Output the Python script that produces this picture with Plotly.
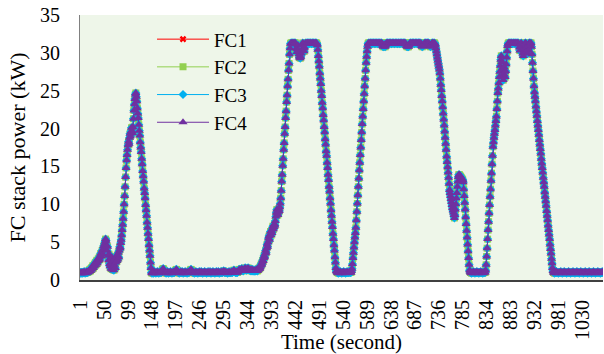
import plotly.graph_objects as go

# ---- Data (kW, one value per second) ----
idle_start = [0.9, 1.0, 0.9, 1.0, 1.0, 0.9, 1.0, 1.0, 1.1, 1.0, 0.9, 1.0, 1.0, 1.1, 1.0, 1.0, 1.1]
first_bump = [1.2, 1.1, 1.3, 1.4, 1.2, 1.5, 1.6, 1.4, 1.7, 1.9, 1.6, 1.8, 2.1, 1.9, 2.3, 2.0, 2.4, 2.6, 2.2,
              2.5, 2.8, 2.6, 3.0, 2.7, 3.2, 3.5, 3.1, 3.6, 3.9, 3.4, 4.1, 4.5, 4.2, 4.8, 5.1, 5.4, 5.2]
low_noise = [4.6, 3.9, 4.4, 3.2, 2.6, 3.4, 2.1, 1.8, 2.7, 1.5, 2.2, 3.0, 1.4, 1.9, 2.6, 1.3, 2.0, 2.8, 1.6,
             2.3, 3.1, 2.5, 3.3, 2.7, 3.6, 3.0, 3.9, 4.4, 4.2, 4.9, 5.3, 5.9, 6.6, 7.3]
peak1_rise = [8.1, 9.0, 10.0, 11.1, 12.3, 13.6, 14.8, 15.8, 16.5, 17.2, 17.8, 18.3, 18.0, 18.8, 19.3, 19.0,
              19.6, 20.1, 19.7, 19.4, 20.2, 21.3, 22.4, 23.2, 23.9, 24.5, 24.7]
peak1_fall = [24.2, 23.6, 22.7, 22.0, 21.4, 20.5, 19.7, 19.1, 18.2, 17.5, 16.9, 16.0, 15.3, 14.4, 13.7, 13.0,
              12.1, 11.5, 10.8, 9.9, 9.2, 8.5, 7.6, 6.9, 6.1, 5.4, 4.6, 3.9, 3.2, 2.3, 1.6, 1.0]
idle_mid1 = [0.9, 1.0, 1.0, 0.9, 1.0, 1.1, 1.0, 1.0, 0.9, 1.0,
             1.0, 1.1, 1.0, 1.0, 0.9, 1.0, 1.0, 1.1, 1.0, 1.0,
             1.1, 1.3, 1.4, 1.5, 1.4, 1.2, 1.1, 1.0, 1.0, 0.9,
             1.0, 1.0, 1.1, 1.0, 0.9, 1.0, 1.0, 1.0, 1.1, 1.0,
             1.0, 0.9, 1.0, 1.0, 1.1, 1.0, 1.0, 1.1, 1.2, 1.3,
             1.4, 1.3, 1.2, 1.1, 1.0, 1.0, 0.9, 1.0, 1.0, 1.1,
             1.0, 1.0, 1.1, 1.0, 0.9, 1.0, 1.0, 1.0, 1.1, 1.0,
             1.0, 1.0, 0.9, 1.0, 1.1, 1.0, 1.0, 1.1, 1.2, 1.3,
             1.4, 1.3, 1.2, 1.1, 1.0, 1.0, 1.0, 0.9, 1.0, 1.0,
             1.1, 1.0, 1.0, 1.0, 0.9, 1.0, 1.0, 1.1, 1.0, 1.0,
             1.0, 1.1, 1.0, 1.0, 0.9, 1.0, 1.0, 1.0, 1.1, 1.0,
             1.0, 1.0, 0.9, 1.0, 1.0, 1.1, 1.0, 1.0, 1.0, 1.1,
             1.0, 0.9, 1.0, 1.0, 1.0, 1.1, 1.0, 1.0, 1.0, 0.9,
             1.0, 1.0, 1.1, 1.0, 1.0, 1.0, 1.1, 1.0, 0.9, 1.0,
             1.0, 1.0, 1.1, 1.0, 1.0, 1.0, 1.1, 1.2, 1.1, 1.0,
             1.0, 1.1, 1.0, 1.0, 1.0, 0.9, 1.0, 1.0, 1.1, 1.0,
             1.0, 1.0, 1.0, 1.1, 1.0, 1.0, 1.1, 1.2, 1.3, 1.2,
             1.1, 1.0, 1.0, 1.1, 1.0, 1.0, 1.1, 1.2, 1.3, 1.4,
             1.3, 1.2, 1.3, 1.4, 1.5, 1.4, 1.3, 1.2, 1.3, 1.4,
             1.5, 1.6, 1.5, 1.4, 1.3, 1.4, 1.5, 1.6]
slow_rise = [1.5, 1.4, 1.3, 1.4, 1.3, 1.2, 1.3, 1.4, 1.3, 1.2,
             1.3, 1.2, 1.2, 1.3, 1.2, 1.3, 1.4, 1.3, 1.2, 1.3,
             1.4, 1.5, 1.6, 1.5, 1.7, 1.9, 2.1, 2.0, 2.3, 2.6,
             2.5, 2.9, 3.2, 3.0, 3.5, 3.9, 3.6, 4.2, 4.7, 4.4,
             5.0, 5.5, 5.8, 5.3, 6.0, 6.4, 5.9, 6.5, 6.2, 6.8,
             7.1, 6.7, 7.0, 7.4, 7.2, 7.8, 8.4, 8.9, 9.3, 8.8,
             8.6, 9.0, 9.4, 9.1, 9.6, 10.1]
peak2_rise = [10.8, 11.8, 13.0, 13.9, 15.1, 16.0, 17.2, 18.1, 19.3, 20.2, 21.4, 22.3, 23.5, 24.4, 25.6,
              26.5, 27.7, 28.6, 29.8, 30.6, 31.2]
peak2_top = [31.3, 31.3, 31.2, 31.3, 31.3, 31.3, 31.2, 31.3, 31.3, 31.3,
             31.1, 30.6, 30.1, 30.5, 31.0, 30.4, 29.8, 29.4, 29.6, 29.3,
             29.5, 29.9, 30.4, 31.0, 31.3, 31.2, 30.6, 30.2, 30.7, 31.2,
             31.3, 31.3, 31.2, 31.3, 31.3, 31.3, 31.3, 31.2, 31.3, 31.3,
             31.3, 31.3, 31.2, 31.3, 31.3, 31.3, 31.3, 31.3, 31.2, 31.3,
             31.3, 31.3, 31.3, 31.2, 31.0]
peak2_fall = [30.4, 29.6, 28.9, 28.2, 27.3, 26.6, 25.9, 25.0, 24.3, 23.4, 22.7, 21.8, 21.1, 20.2, 19.5,
              18.6, 17.9, 17.0, 16.4, 15.5, 14.8, 13.9, 13.2, 12.3, 11.7, 10.8, 10.1, 9.2, 8.5, 7.7,
              7.0, 6.1, 5.4, 4.6, 3.9, 3.0, 2.3, 1.6, 1.2, 1.1, 1.0]
idle_mid2 = [1.0, 0.9, 1.0, 1.0, 1.0, 1.1, 1.0, 1.0, 0.9, 1.0,
             1.0, 1.0, 1.1, 1.0, 1.0, 1.0, 0.9, 1.0, 1.0, 1.1,
             1.0, 1.0, 1.0, 1.0, 1.1, 1.0, 1.0, 1.0, 1.2, 1.5, 2.1]
peak3_rise = [2.9, 3.6, 4.3, 5.0, 5.6, 6.2, 6.9, 7.9, 9.0, 10.1,
              11.2, 12.3, 13.4, 14.5, 15.5, 16.5, 17.5, 18.5, 19.5, 20.6,
              21.6, 22.6, 23.6, 24.6, 25.6, 26.6, 27.7, 28.7, 29.5, 30.2, 30.8, 31.2]
peak3_top = [31.3, 31.3, 31.2, 31.3, 31.3, 31.3, 31.3, 31.2, 31.3, 31.3,
             31.3, 31.3, 31.3, 31.2, 31.3, 31.3, 31.3, 31.3, 31.3, 31.2,
             31.3, 31.3, 31.3, 31.3, 31.2, 31.3, 31.3, 31.3, 31.1, 30.9,
             30.8, 30.9, 31.1, 30.9, 30.8, 31.0, 31.2, 31.3, 31.3, 31.3,
             31.3, 31.2, 31.3, 31.3, 31.3, 31.3, 31.3, 31.2, 31.3, 31.3,
             31.3, 31.3, 31.3, 31.2, 31.3, 31.3, 31.3, 31.3, 31.3, 31.2,
             31.3, 31.3, 31.3, 31.3, 31.2, 31.3, 31.3, 31.3, 31.3, 31.3,
             31.2, 31.3, 31.3, 31.3, 31.3, 31.3, 31.2, 31.1, 30.9, 30.8,
             30.9, 31.0, 30.8, 31.0, 31.2, 31.3, 31.3, 31.3, 31.2, 31.3,
             31.3, 31.3, 31.3, 31.3, 31.2, 31.3, 31.3, 31.3, 31.3, 31.3,
             31.2, 31.3, 31.3, 31.3, 31.3, 31.3, 31.2, 31.3, 31.1, 30.9,
             30.8, 31.0, 30.9, 31.1, 31.2, 31.3, 31.3, 31.3, 31.2, 31.3,
             31.3, 31.3, 31.3, 31.3, 31.2, 31.0, 30.9, 30.8, 31.0, 31.1,
             31.3, 31.3, 31.3, 31.2, 31.3, 31.3, 31.2]
peak3_fall = [31.0, 30.6, 30.2, 29.8, 29.4, 29.0, 28.6, 28.2, 27.8, 27.3,
              26.6, 25.8, 25.1, 24.3, 23.6, 22.8, 22.0, 21.2, 20.4, 19.6,
              18.8, 18.0, 17.2, 16.3, 15.6, 14.9, 14.2, 13.5, 12.7, 11.9,
              11.5, 11.1, 10.7, 10.3, 9.9, 9.5, 9.2, 8.9, 8.6, 8.2]
small_bump = [8.6, 9.3, 10.0, 10.8, 11.5, 12.3, 13.0, 13.6, 13.9, 13.9,
              13.8, 13.7, 13.6, 13.5, 13.4, 13.3, 13.2, 12.9, 12.0, 11.1,
              10.2, 9.3, 8.3, 7.4, 6.5, 5.6, 4.7, 3.8, 2.9, 2.0, 1.3]
idle_mid3 = [1.1, 1.0, 1.0, 0.9, 1.0, 1.0, 1.0, 1.1, 1.0, 1.0,
             0.9, 1.0, 1.0, 1.0, 1.1, 1.0, 1.0, 1.0, 0.9, 1.0,
             1.0, 1.0, 1.1, 1.0, 1.0, 1.0, 0.9, 1.0, 1.0, 1.0,
             1.1, 1.0, 1.3, 2.0]
peak4_rise = [3.1, 4.2, 5.4, 6.6, 7.7, 8.8, 9.9, 11.0, 12.0, 13.1,
              14.1, 15.3, 16.4, 17.6, 18.2, 18.8, 19.3, 19.8, 20.4, 21.0,
              21.6, 22.6, 23.6, 24.7, 25.3, 26.0, 26.8, 27.5, 28.3, 29.1,
              29.6, 28.8, 27.9, 27.0, 26.4, 27.2, 28.1, 27.5, 26.8, 27.6,
              28.5, 29.4, 30.2, 30.9]
peak4_top = [31.2, 31.3, 31.3, 31.3, 31.2, 31.3, 31.3, 31.3, 31.3, 31.2,
             31.3, 31.3, 31.3, 31.3, 31.2, 31.3, 31.3, 31.3, 31.2, 31.3,
             31.3, 31.3, 31.1, 30.7, 30.3, 30.8, 31.2, 31.3, 30.9, 30.4,
             29.9, 29.6, 30.1, 30.6, 31.1, 31.3, 31.3, 31.2, 30.8, 30.3,
             29.9, 30.4, 31.0, 31.3, 31.3, 31.3, 31.2, 31.3]
peak4_fall = [30.8, 29.8, 28.7, 27.6, 26.6, 25.6, 24.8, 24.2, 23.6, 22.9,
              22.3, 21.7, 21.0, 20.4, 19.8, 19.2, 18.5, 17.9, 17.3, 16.7,
              16.0, 15.4, 14.8, 14.2, 13.5, 12.9, 12.3, 11.6, 11.0, 10.4,
              9.8, 9.1, 8.5, 7.9, 7.2, 6.6, 6.0, 5.4, 4.7, 4.1,
              3.5, 2.8, 2.2, 1.6, 1.2]
idle_end = [1.0, 1.0, 0.9, 1.0, 1.0, 1.0, 1.1, 1.0, 1.0, 1.0,
            0.9, 1.0, 1.0, 1.0, 1.0, 1.1, 1.0, 1.0, 0.9, 1.0,
            1.0, 1.0, 1.1, 1.0, 1.0, 1.0, 1.0, 0.9, 1.0, 1.0,
            1.0, 1.1, 1.0, 1.0, 1.0, 0.9, 1.0, 1.0, 1.0, 1.0,
            1.1, 1.0, 1.0, 1.0, 0.9, 1.0, 1.0, 1.0, 1.1, 1.0,
            1.0, 1.0, 1.0, 0.9, 1.0, 1.0, 1.1, 1.0, 1.0, 1.0,
            1.0, 0.9, 1.0, 1.0, 1.0, 1.1, 1.0, 1.0, 1.0, 1.0,
            0.9, 1.0, 1.0, 1.1, 1.0, 1.0, 1.0, 1.0, 0.9, 1.0,
            1.0, 1.0, 1.1, 1.0, 1.0, 1.0, 0.9, 1.0, 1.0, 1.0,
            1.0, 1.1, 1.0, 1.0, 1.0, 1.0, 0.9, 1.0, 1.0, 1.0,
            1.1, 1.0]

fc_power_kw = (idle_start + first_bump + low_noise + peak1_rise + peak1_fall + idle_mid1 + slow_rise
               + peak2_rise + peak2_top + peak2_fall + idle_mid2 + peak3_rise + peak3_top + peak3_fall
               + small_bump + idle_mid3 + peak4_rise + peak4_top + peak4_fall + idle_end)

# The four stacks share (practically) the same power profile in the reference
fc1_kw = fc_power_kw
fc2_kw = fc_power_kw
fc3_kw = fc_power_kw
fc4_kw = fc_power_kw
time_s = list(range(1, len(fc_power_kw) + 1))

series_names = ["FC1", "FC2", "FC3", "FC4"]
x_tick_labels = [1, 50, 99, 148, 197, 246, 295, 344, 393, 442, 491, 540, 589, 638, 687,
                 736, 785, 834, 883, 932, 981, 1030]
y_tick_labels = [0, 5, 10, 15, 20, 25, 30, 35]

styles = [
    dict(color="#ff0000", symbol="x", size=6),
    dict(color="#92d050", symbol="square", size=7),
    dict(color="#00b0f0", symbol="diamond", size=7),
    dict(color="#7030a0", symbol="triangle-up", size=8),
]

fig = go.Figure()
for name, vals, st in zip(series_names, [fc1_kw, fc2_kw, fc3_kw, fc4_kw], styles):
    fig.add_trace(go.Scatter(
        x=time_s, y=vals, name=name, mode="lines+markers",
        line=dict(color=st["color"], width=1),
        marker=dict(color=st["color"], symbol=st["symbol"], size=st["size"],
                    line=dict(width=0)),
    ))

font_family = "Liberation Serif, Times New Roman, serif"
fig.update_layout(
    width=604, height=354,
    margin=dict(l=80, r=1, t=15, b=74),
    paper_bgcolor="white",
    plot_bgcolor="#eef6e9",
    font=dict(family=font_family, size=20, color="black"),
    showlegend=True,
    legend=dict(x=0.1377, y=0.98, xanchor="left", yanchor="top",
                bgcolor="rgba(0,0,0,0)", font=dict(size=19, family=font_family),
                itemwidth=52, tracegroupgap=0),
    xaxis=dict(
        range=[0.5, len(fc_power_kw) + 0.5], automargin=False,
        tickmode="array", tickvals=x_tick_labels, ticktext=[str(v) for v in x_tick_labels],
        tickangle=-90, showgrid=False, zeroline=False,
        showline=True, linecolor="#404040", linewidth=2,
        ticks="outside", ticklen=10, tickcolor="rgba(0,0,0,0)", tickfont=dict(size=20),
        title=dict(text="Time (second)", font=dict(size=21, weight="normal"), standoff=2),
    ),
    yaxis=dict(
        range=[0, 35], automargin=False, tickmode="array", tickvals=y_tick_labels,
        showgrid=False, zeroline=False,
        showline=True, linecolor="#808080", linewidth=1,
        ticks="outside", ticklen=15, tickcolor="rgba(0,0,0,0)", tickfont=dict(size=20),
        title=dict(text="FC stack power (kW)", font=dict(size=22, weight="normal"), standoff=8),
    ),
)

# remove the browser's default 8px body margin so the figure fills the window exactly
fig.write_html("out.html", config={"displayModeBar": False},
               post_script="document.body.style.margin='0px';")
